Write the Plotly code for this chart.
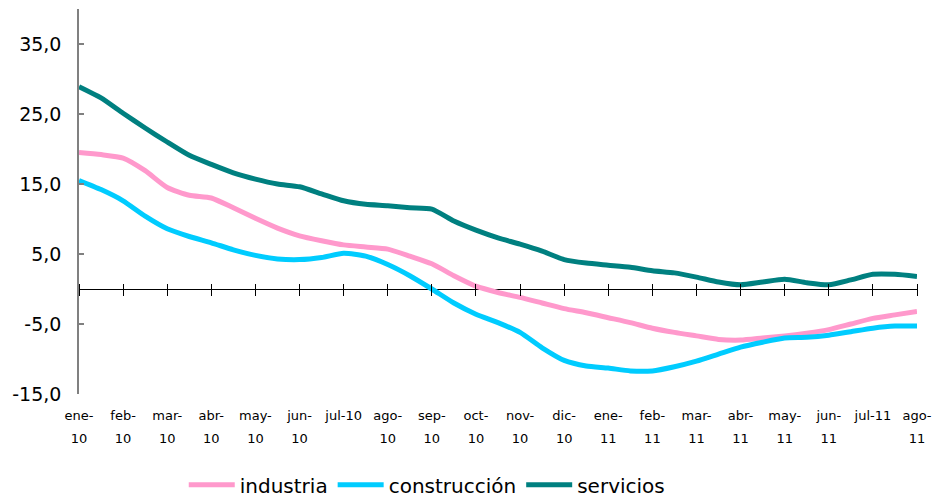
import plotly.graph_objects as go
import numpy as np

# Month labels (two text lines under each tick)
month_line1 = ["ene-", "feb-", "mar-", "abr-", "may-", "jun-", "jul-10", "ago-", "sep-", "oct-",
               "nov-", "dic-", "ene-", "feb-", "mar-", "abr-", "may-", "jun-", "jul-11", "ago-"]
month_line2 = ["10", "10", "10", "10", "10", "10", "", "10", "10", "10",
               "10", "10", "11", "11", "11", "11", "11", "11", "", "11"]

# Values read at half-month steps, ene-10 .. ago-11
industria = [19.5, 19.2, 18.7, 16.9, 14.5, 13.4, 13.0, 11.6, 10.1, 8.7,
             7.6, 6.9, 6.3, 6.0, 5.7, 4.7, 3.6, 1.9, 0.4, -0.5,
             -1.2, -2.0, -2.8, -3.4, -4.1, -4.8, -5.6, -6.2, -6.7, -7.2,
             -7.3, -7.0, -6.7, -6.3, -5.8, -5.0, -4.2, -3.7, -3.2]
construccion = [15.5, 14.2, 12.6, 10.4, 8.6, 7.5, 6.6, 5.6, 4.8, 4.3,
                4.2, 4.5, 5.1, 4.7, 3.5, 1.9, 0.0, -2.0, -3.6, -4.8,
                -6.2, -8.4, -10.2, -11.0, -11.3, -11.7, -11.7, -11.1, -10.3, -9.3,
                -8.3, -7.6, -7.0, -6.9, -6.6, -6.1, -5.6, -5.3, -5.3]
servicios = [28.9, 27.3, 25.1, 23.0, 21.0, 19.1, 17.8, 16.6, 15.7, 15.0,
             14.6, 13.6, 12.6, 12.1, 11.9, 11.6, 11.4, 9.7, 8.4, 7.3,
             6.4, 5.4, 4.2, 3.7, 3.4, 3.1, 2.6, 2.3, 1.7, 1.0,
             0.6, 1.0, 1.4, 0.9, 0.6, 1.3, 2.1, 2.1, 1.8]

y_ticks = [-15, -5, 5, 15, 25, 35]

x_pos = np.arange(len(industria)) / 2.0
month_idx = list(range(len(month_line1)))

FONT = "DejaVu Sans"
fig = go.Figure()
fig.add_trace(go.Scatter(x=x_pos, y=industria, name="industria", mode="lines",
                         line=dict(color="#FF99CC", width=5, shape="spline", smoothing=0.6),
                         xaxis="x", yaxis="y"))
fig.add_trace(go.Scatter(x=x_pos, y=construccion, name="construcción", mode="lines",
                         line=dict(color="#00CCFF", width=5, shape="spline", smoothing=0.6),
                         xaxis="x2", yaxis="y"))
fig.add_trace(go.Scatter(x=x_pos, y=servicios, name="servicios", mode="lines",
                         line=dict(color="#008080", width=5, shape="spline", smoothing=0.6),
                         xaxis="x3", yaxis="y"))

x_range = [0, len(month_line1) - 1]
y_range = [-15, 40]
zero_frac = (0 - y_range[0]) / (y_range[1] - y_range[0])
plot_h = 385

fig.update_layout(
    width=936, height=497,
    margin=dict(l=79, r=19, t=9, b=103, autoexpand=False),
    paper_bgcolor="white", plot_bgcolor="white",
    font=dict(family=FONT, color="#000000"),
    showlegend=True,
    legend=dict(orientation="h", x=0.125, xanchor="left", y=-0.236, yanchor="middle",
                font=dict(size=20, family=FONT), itemwidth=46, tracegroupgap=0,
                bgcolor="rgba(0,0,0,0)"),
    xaxis=dict(range=x_range, anchor="y", showline=False, showgrid=False, zeroline=False,
               automargin=False,
               ticks="", tickmode="array", tickvals=month_idx, ticktext=month_line1,
               tickfont=dict(size=13, family=FONT), ticklabelstandoff=12, tickangle=0),
    xaxis2=dict(range=x_range, overlaying="x", anchor="y", side="bottom", showline=False,
                automargin=False,
                showgrid=False, zeroline=False, ticks="", tickmode="array", tickvals=month_idx,
                ticktext=month_line2, tickfont=dict(size=13, family=FONT),
                ticklabelstandoff=35, tickangle=0),
    xaxis3=dict(range=x_range, overlaying="x", anchor="free", automargin=False,
                position=zero_frac + 6.0 / plot_h, side="bottom", showline=False,
                showgrid=False, zeroline=False, ticks="outside", ticklen=12, tickwidth=1,
                tickcolor="#000000", tickmode="array", tickvals=month_idx,
                showticklabels=False),
    yaxis=dict(range=y_range, showline=True, linecolor="#808080", linewidth=1.5,
               automargin=False,
               showgrid=False, zeroline=True, zerolinecolor="#000000", zerolinewidth=1,
               ticks="inside", ticklen=5, tickcolor="#808080", tickwidth=1.5,
               tickmode="array", tickvals=y_ticks,
               ticktext=[f"{v:.1f}".replace(".", ",") for v in y_ticks],
               tickfont=dict(size=19, family=FONT, color="#000000"), ticklabelstandoff=12),
)

fig.write_html("out.html", config={"displayModeBar": False},
               post_script="document.body.style.margin='0';document.body.style.overflow='hidden';")
